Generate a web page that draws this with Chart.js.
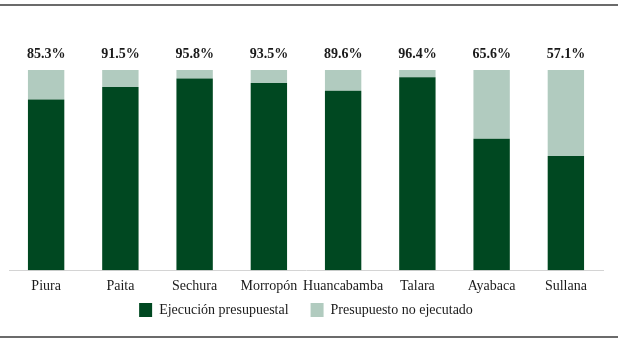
<!DOCTYPE html>
<html>
<head>
<meta charset="utf-8">
<script src="https://cdn.jsdelivr.net/npm/chart.js@4"></script>
<style>
  html, body { margin: 0; padding: 0; background: #fff; }
  #wrap { position: relative; width: 618px; height: 342px; }
  #chart { position: absolute; left: 0; top: 0; }
  .rule { position: absolute; left: 0; width: 618px; height: 2px; background: #6b6b6b; }
</style>
</head>
<body>
<div id="wrap">
  <canvas id="chart" width="618" height="342"></canvas>
  <div class="rule" style="top:4px"></div>
  <div class="rule" style="top:336px"></div>
</div>
<script>
const provincias = ["Piura", "Paita", "Sechura", "Morropón", "Huancabamba", "Talara", "Ayabaca", "Sullana"];
const ejecucion = [85.3, 91.5, 95.8, 93.5, 89.6, 96.4, 65.6, 57.1];
const noEjecutado = [14.7, 8.5, 4.2, 6.5, 10.4, 3.6, 34.4, 42.9];

const fontFamily = "'Liberation Serif', 'DejaVu Serif', serif";

const topLabels = {
  id: "topLabels",
  afterDatasetsDraw(chart) {
    const ctx = chart.ctx;
    const x = chart.scales.x;
    const top = chart.chartArea.top;
    ctx.save();
    ctx.font = "bold 14px " + fontFamily;
    ctx.fillStyle = "#1a1a1a";
    ctx.textAlign = "center";
    ctx.textBaseline = "middle";
    ejecucion.forEach((v, i) => {
      ctx.fillText(v.toFixed(1) + "%", x.getPixelForValue(i), top - 16);
    });
    ctx.restore();
  }
};

new Chart(document.getElementById("chart").getContext("2d"), {
  type: "bar",
  data: {
    labels: provincias,
    datasets: [
      {
        label: "Ejecución presupuestal",
        data: ejecucion,
        backgroundColor: "#004821",
        barPercentage: 0.49,
        categoryPercentage: 1
      },
      {
        label: "Presupuesto no ejecutado",
        data: noEjecutado,
        backgroundColor: "#b1cbbf",
        barPercentage: 0.49,
        categoryPercentage: 1
      }
    ]
  },
  options: {
    responsive: false,
    animation: false,
    layout: { padding: { top: 70, left: 9, right: 15, bottom: 15 } },
    scales: {
      x: {
        stacked: true,
        grid: { display: false },
        border: { display: true, color: "#d4d4d4", width: 1 },
        ticks: {
          color: "#1a1a1a",
          font: { family: fontFamily, size: 14 },
          padding: 0,
          maxRotation: 0,
          minRotation: 0,
          autoSkip: false
        }
      },
      y: {
        stacked: true,
        display: false,
        min: 0,
        max: 100
      }
    },
    plugins: {
      legend: {
        position: "bottom",
        labels: {
          color: "#1a1a1a",
          font: { family: fontFamily, size: 14 },
          boxWidth: 13,
          boxHeight: 14,
          padding: 8,
          generateLabels(chart) {
            const items = Chart.defaults.plugins.legend.labels.generateLabels(chart);
            // wider gap between the two entries, like the original
            items[0].text = items[0].text + "    ";
            return items;
          }
        }
      },
      tooltip: { enabled: false }
    }
  },
  plugins: [topLabels]
});
</script>
</body>
</html>
